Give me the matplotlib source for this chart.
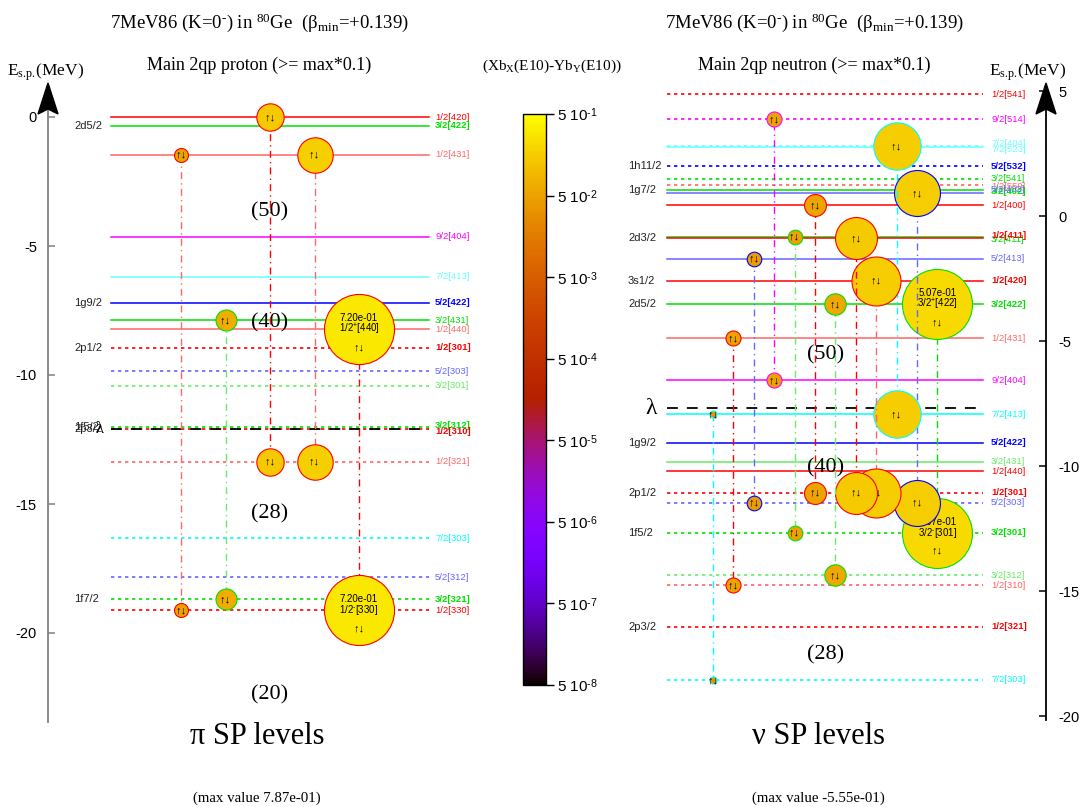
import numpy as np
import matplotlib
matplotlib.use('Agg')
import matplotlib.pyplot as plt
from matplotlib.colors import LogNorm, ListedColormap, to_rgb
import matplotlib.cm as cm

plt.rcParams['font.family'] = ['Liberation Sans', 'DejaVu Sans']
plt.rcParams['mathtext.fontset'] = 'custom'
plt.rcParams['mathtext.rm'] = 'Liberation Serif'
plt.rcParams['mathtext.it'] = 'Liberation Serif:italic'
plt.rcParams['mathtext.bf'] = 'Liberation Serif:bold'
plt.rcParams['mathtext.sf'] = 'Liberation Sans'
plt.rcParams['axes.unicode_minus'] = False
SERIF = ['Liberation Serif', 'DejaVu Serif']
SANS = ['Liberation Sans', 'DejaVu Sans']

# ---------------------------------------------------------------- data
title_main = r'7MeV86 (K=0$^{\rm ‐}$) in $^{\rm 80}$Ge  (β$_{\rm min}$=+0.139)'
p_subtitle = 'Main 2qp proton (>= max*0.1)'
n_subtitle = 'Main 2qp neutron (>= max*0.1)'
cb_title = r'(Xb$_{\rm X}$(E10)-Yb$_{\rm Y}$(E10))'
axis_label = r'E$_{\rm s.\!p.\!}$(MeV)'
p_bottom = 'π SP levels'
n_bottom = 'ν SP levels'
p_maxtext = '(max value 7.87e-01)'
n_maxtext = '(max value -5.55e-01)'
p_max = 7.87e-01
n_max = 5.55e-01

# proton single-particle levels
p_names = ['1/2[420]', '3/2[422]', '1/2[431]', '9/2[404]', '7/2[413]', '5/2[422]',
           '3/2[431]', '1/2[440]', '1/2[301]', '5/2[303]', '3/2[301]', '3/2[312]',
           '1/2[310]', '1/2[321]', '7/2[303]', '5/2[312]', '3/2[321]', '1/2[330]']
p_energy = [0.00, -0.34, -1.47, -4.64, -6.19, -7.20, -7.88, -8.22, -8.95, -9.85,
            -10.42, -12.02, -12.10, -13.37, -16.33, -17.83, -18.70, -19.12]
p_parity = ['+', '+', '+', '+', '+', '+', '+', '+', '-', '-', '-', '-', '-', '-',
            '-', '-', '-', '-']
p_bold = [0, 1, 0, 0, 0, 1, 0, 0, 1, 0, 0, 1, 1, 0, 0, 0, 1, 0]
p_light = [0, 0, 1, 0, 1, 0, 0, 1, 0, 1, 1, 0, 0, 1, 0, 1, 0, 0]
p_sph = ['', '2d5/2', '', '', '', '1g9/2', '', '', '2p1/2', '', '', '1f5/2',
         '2p3/2', '', '', '', '1f7/2', '']
p_lambda = -12.08
p_magic = ['(50)', '(40)', '(28)', '(20)']
p_magic_E = [-3.68, -7.98, -15.39, -22.40]

# proton 2qp components
p_pair_pos = ['1/2[431]', '3/2[431]', '1/2[420]', '1/2[431]', '1/2[440]']
p_pair_neg = ['1/2[330]', '3/2[321]', '1/2[321]', '1/2[321]', '1/2[330]']
p_pair_amp = [0.144, 0.216, 0.281, 0.364, 0.720]
p_pair_cval = [0.05, 0.07, 0.14, 0.17, 0.30]
p_pair_light = [1, 1, 0, 1, 0]

# neutron single-particle levels
n_names = ['1/2[541]', '9/2[514]', '7/2[523]', '7/2[404]', '5/2[532]', '3/2[541]',
           '1/2[550]', '3/2[402]', '5/2[402]', '1/2[400]', '3/2[411]', '1/2[411]',
           '5/2[413]', '1/2[420]', '3/2[422]', '1/2[431]', '9/2[404]', '7/2[413]',
           '5/2[422]', '3/2[431]', '1/2[440]', '1/2[301]', '5/2[303]', '3/2[301]',
           '3/2[312]', '1/2[310]', '1/2[321]', '7/2[303]']
n_energy = [4.87, 3.87, 2.80, 2.76, 2.00, 1.49, 1.23, 1.04, 0.91, 0.43, -0.83,
            -0.88, -1.71, -2.59, -3.52, -4.89, -6.56, -7.92, -9.07, -9.83, -10.20,
            -11.07, -11.47, -12.67, -14.37, -14.76, -16.43, -18.56]
n_parity = ['-', '-', '-', '+', '-', '-', '-', '+', '+', '+', '+', '+', '+', '+',
            '+', '+', '+', '+', '+', '+', '+', '-', '-', '-', '-', '-', '-', '-']
n_bold = [0, 0, 0, 0, 1, 0, 0, 1, 0, 0, 0, 1, 0, 1, 1, 0, 0, 0, 1, 0, 0, 1, 0, 1,
          0, 0, 1, 0]
n_light = [0, 0, 1, 1, 0, 0, 1, 0, 1, 0, 0, 0, 1, 0, 0, 1, 0, 0, 0, 1, 0, 0, 1, 0,
           1, 1, 0, 0]
n_sph = ['', '', '', '', '1h11/2', '', '', '1g7/2', '', '', '', '2d3/2', '',
         '3s1/2', '2d5/2', '', '', '', '1g9/2', '', '', '2p1/2', '', '1f5/2', '',
         '', '2p3/2', '']
n_lambda = -7.69
n_magic = ['(50)', '(40)', '(28)']
n_magic_E = [-5.56, -10.08, -17.56]

# neutron 2qp components
n_pair_pos = ['7/2[413]', '1/2[431]', '5/2[413]', '9/2[404]', '3/2[411]', '1/2[400]',
              '3/2[422]', '1/2[411]', '1/2[420]', '7/2[413]', '5/2[402]', '3/2[422]']
n_pair_neg = ['7/2[303]', '1/2[310]', '5/2[303]', '9/2[514]', '3/2[301]', '1/2[301]',
              '3/2[312]', '1/2[301]', '1/2[301]', '7/2[523]', '5/2[303]', '3/2[301]']
n_pair_amp = [0.051, 0.109, 0.106, 0.109, 0.106, 0.159, 0.155, 0.304, 0.355, 0.343,
              0.333, 0.507]
n_pair_cval = [0.035, 0.05, 0.045, 0.05, 0.05, 0.055, 0.06, 0.15, 0.16, 0.16, 0.16,
               0.22]
n_pair_light = [0, 0, 1, 0, 1, 0, 1, 0, 1, 0, 1, 0]

cb_ticks = [5e-1, 5e-2, 5e-3, 5e-4, 5e-5, 5e-6, 5e-7, 5e-8]
cb_ticklabels = [r'5 10$^{\mathsf{‐%d}}$' % k for k in range(1, 9)]

# ---------------------------------------------------------------- style
OMEGA_COL = {'1/2': '#FF0000', '3/2': '#00E000', '5/2': '#0000FF',
             '7/2': '#00FFFF', '9/2': '#FF00FF'}


def level_colour(name, light):
    c = np.array(to_rgb(OMEGA_COL[name.split('[')[0]]))
    if light:
        c = c * 0.6 + 0.4
    return tuple(c)


xs = np.linspace(0, 1, 256)
cmap = ListedColormap(np.column_stack([np.sqrt(xs), xs ** 3,
                                       np.clip(np.sin(2 * np.pi * xs), 0, 1)]))
norm = LogNorm(5e-8, 5e-1)

W, H = 1089, 807
fig = plt.figure(figsize=(W / 100, H / 100), dpi=100)


def fx(x):
    return x / W


def fy(y):
    return 1 - y / H


R_MAX = 38.3  # circle radius (px) at the panel maximum


def draw_panel(ax, g, names, E, par, bold, light, sph, lam_E, magic, magic_E,
               pp, pn, amp, cval, plight, vmax, nudges):
    ppm = g['ppm']
    Emap = dict(zip(names, E))
    for n, e, p, b, l, s in zip(names, E, par, bold, light, sph):
        col = level_colour(n, l)
        if p == '+':
            ax.plot([g['x0'], g['x1']], [e, e], color=col, lw=1.1, zorder=1)
        else:
            ax.plot([g['x0'], g['x1']], [e, e], color=col, lw=1.2,
                    ls=(0, (2, 2.2)), zorder=1)
        ey = e - nudges.get(n, 0) / ppm
        ax.text(g['xlab'], ey, n, color=col, fontsize=6.8,
                fontweight='bold' if b else 'normal', ha='left', va='center')
        if s:
            ax.text(g['xsph'], e, s, fontsize=8, ha='left', va='center',
                    color='#222222')
    ax.plot([g['x0'], g['x1']], [lam_E, lam_E], color='black', lw=1.3,
            ls=(0, (6, 5)), zorder=1.5)
    ax.text(g['xlam'], lam_E, 'λ', family=SERIF, fontsize=g['lam_fs'],
            ha=g['lam_ha'], va='center')
    for m, me in zip(magic, magic_E):
        ax.text(g['magic_x'], me, m, family=SERIF, fontsize=16, ha='center',
                va='center', zorder=1.8)
    npair = len(pp)
    for k in range(npair - 1, -1, -1):
        z = 2 + (npair - k) * 0.1
        x = g['col0'] + k * g['dcol']
        e1, e2 = Emap[pp[k]], Emap[pn[k]]
        om = pp[k].split('[')[0]
        vcol = level_colour(pp[k], plight[k])
        ax.plot([x, x], [e1, e2], color=vcol, lw=1.0, ls=(0, (5, 3, 1, 3)),
                zorder=z)
        r = R_MAX * amp[k] / vmax
        s = (2 * r * 0.72) ** 2
        fc = cmap(norm(cval[k]))
        ax.scatter([x, x], [e1, e2], s=s, color=[fc], edgecolors=OMEGA_COL[om],
                   linewidths=0.8, zorder=z + 0.01)
        if amp[k] > 0.8 * vmax:
            for e, nm, sg in ((e1, pp[k], '+'), (e2, pn[k], '‐')):
                ax.text(x, e + 11 / ppm, '%.2e' % amp[k], fontsize=7,
                        ha='center', va='center', zorder=z + 0.02)
                om_, br = nm.split('[')
                ax.text(x, e, om_ + r'$^{\mathsf{%s}}$' % sg + '[' + br,
                        fontsize=7, ha='center', va='center', zorder=z + 0.02)
                ax.text(x, e - 18 / ppm, '↑↓', family=SANS, fontsize=8,
                        ha='center', va='center', zorder=z + 0.02)
        else:
            for e in (e1, e2):
                ax.text(x, e, '↑↓', family=SANS, fontsize=8, ha='center',
                        va='center', zorder=z + 0.02)


def setup_axes(rect, xlim, ppm, y0):
    ax = fig.add_axes(rect)
    ax.set_xlim(*xlim)
    ax.set_ylim((y0 - H) / ppm, y0 / ppm)
    ax.patch.set_alpha(0)
    for sp in ax.spines.values():
        sp.set_visible(False)
    ax.xaxis.set_visible(False)
    return ax


# ---------------- left (proton) panel
gL = dict(ppm=25.8, x0=111, x1=429, xlab=435, xsph=74, col0=181, dcol=44.5,
          xlam=104, lam_ha='right', lam_fs=12, magic_x=270)
axL = setup_axes([0, 0, 545 / W, 1], (0, 545), gL['ppm'], 117)
axL.spines['left'].set_visible(True)
axL.spines['left'].set_position(('data', 48))
axL.spines['left'].set_bounds((117 - 722) / 25.8, 0.3)
axL.spines['left'].set_color('#808080')
axL.spines['left'].set_linewidth(1.3)
axL.set_yticks([0, -5, -10, -15, -20])
axL.set_yticklabels(['0', '-5', '-10', '-15', '-20'])
axL.tick_params(axis='y', direction='in', length=5, width=1.1, color='#808080',
                labelsize=10.5, pad=8)
tip, base, notch = (117 - 83) / 25.8, (117 - 114) / 25.8, (117 - 109) / 25.8
axL.fill([48, 38, 48, 58], [tip, base, notch, base], color='black', zorder=5)
draw_panel(axL, gL, p_names, p_energy, p_parity, p_bold, p_light, p_sph,
           p_lambda, p_magic, p_magic_E, p_pair_pos, p_pair_neg, p_pair_amp,
           p_pair_cval, p_pair_light, p_max,
           {'3/2[312]': -2.0, '1/2[310]': 2.5})

# ---------------- right (neutron) panel
gR = dict(ppm=25.0, x0=667, x1=983, xlab=991, xsph=628, col0=713, dcol=20.4,
          xlam=651, lam_ha='center', lam_fs=17, magic_x=826)
axR = setup_axes([545 / W, 0, 544 / W, 1], (545, 1089), gR['ppm'], 216)
axR.spines['right'].set_visible(True)
axR.spines['right'].set_position(('data', 1046))
axR.spines['right'].set_bounds((216 - 720) / 25.0, 4.3)
axR.spines['right'].set_linewidth(1.3)
axR.yaxis.tick_right()
axR.set_yticks([5, 0, -5, -10, -15, -20])
axR.set_yticklabels(['5', '0', '-5', '-10', '-15', '-20'])
axR.tick_params(axis='y', direction='in', length=5, width=1.1, labelsize=10.5,
                pad=9)
tip, base, notch = (216 - 83) / 25.0, (216 - 114) / 25.0, (216 - 109) / 25.0
axR.fill([1046, 1036, 1046, 1056], [tip, base, notch, base], color='black',
         zorder=5)
draw_panel(axR, gR, n_names, n_energy, n_parity, n_bold, n_light, n_sph,
           n_lambda, n_magic, n_magic_E, n_pair_pos, n_pair_neg, n_pair_amp,
           n_pair_cval, n_pair_light, n_max,
           {'7/2[523]': 3.5, '7/2[404]': -3.5, '1/2[550]': 1.5, '3/2[402]': 1.0,
            '5/2[402]': -3.5, '3/2[411]': 2.5, '1/2[411]': -2.5})

# ---------------- colour bar
cax = fig.add_axes([fx(523), fy(685), 23 / W, 571 / H])
sm = cm.ScalarMappable(norm=norm, cmap=cmap)
cb = fig.colorbar(sm, cax=cax)
cb.set_ticks(cb_ticks)
cb.set_ticklabels(cb_ticklabels)
cb.minorticks_off()
cb.outline.set_linewidth(1.0)
cax.tick_params(labelsize=11, length=6, width=1, direction='out', pad=2)

# ---------------- figure texts
for xc, sub in ((259, p_subtitle), (814, n_subtitle)):
    fig.text(fx(xc), fy(23), title_main, family=SERIF, fontsize=13.5,
             ha='center', va='center')
    fig.text(fx(xc), fy(65), sub, family=SERIF, fontsize=13, ha='center',
             va='center')
fig.text(fx(552), fy(66), cb_title, family=SERIF, fontsize=11, ha='center',
         va='center')
fig.text(fx(46), fy(72), axis_label, family=SERIF, fontsize=12.5,
         ha='center', va='center')
fig.text(fx(1028), fy(72), axis_label, family=SERIF, fontsize=12.5,
         ha='center', va='center')
fig.text(fx(257), fy(736), p_bottom, family=SERIF, fontsize=22, ha='center',
         va='center')
fig.text(fx(818), fy(736), n_bottom, family=SERIF, fontsize=22, ha='center',
         va='center')
fig.text(fx(257), fy(798), p_maxtext, family=SERIF, fontsize=10.7, ha='center',
         va='center')
fig.text(fx(818), fy(798), n_maxtext, family=SERIF, fontsize=10.7, ha='center',
         va='center')

fig.savefig('out.png', dpi=100)
